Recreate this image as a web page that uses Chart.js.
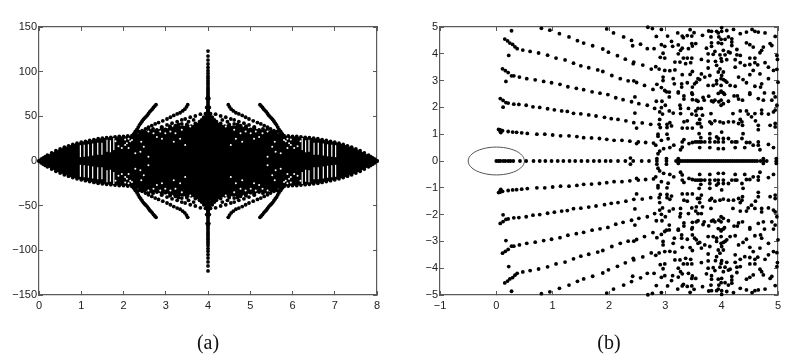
<!DOCTYPE html>
<html>
<head>
<meta charset="utf-8">
<script src="https://cdn.jsdelivr.net/npm/chart.js@4"></script>
<style>
  html, body { margin: 0; padding: 0; background: #fff; overflow: hidden; }
  #wrap_a, #wrap_b { position: absolute; top: 0; width: 401px; height: 364px; }
  #wrap_a { left: 0; }
  #wrap_b { left: 401px; }
</style>
</head>
<body>
<div id="wrap_a"><canvas id="chart_a"></canvas></div>
<div id="wrap_b"><canvas id="chart_b"></canvas></div>
<script>
// tick labels
const aXTicks = [0, 1, 2, 3, 4, 5, 6, 7, 8];
const aYTicks = [-150, -100, -50, 0, 50, 100, 150];
const bXTicks = [-1, 0, 1, 2, 3, 4, 5];
const bYTicks = [-5, -4, -3, -2, -1, 0, 1, 2, 3, 4, 5];

// panel (a): outline of the solid mass
const aEdgeTop = [[0,0],[.05,2],[.1,3.5],[.15,5],[.2,6.5],[.3,9],[.4,11.5],[.5,13.5],[.6,15.5],[.7,17],[.8,18.5],[.9,20],[1,21],[1.1,22],[1.2,23],[1.3,24],[1.4,25],[1.5,25.5],[1.6,26],[1.7,26.5],[1.8,27],[1.9,27.5],[2,27.5],[2.1,28],[2.2,28.5],[2.3,30],[2.4,32],[2.5,33],[2.6,35],[2.7,36],[2.8,34],[2.9,38],[3,35],[3.1,39],[3.2,37],[3.3,41],[3.4,38],[3.5,41],[3.6,39],[3.7,42],[3.8,44],[3.85,46],[3.9,49],[3.94,53],[3.97,60],[3.98,70],[4,72],[4.02,70],[4.03,60],[4.06,53],[4.1,49],[4.15,46],[4.2,44],[4.3,42],[4.4,39],[4.5,41],[4.6,38],[4.7,41],[4.8,37],[4.9,39],[5,35],[5.1,38],[5.2,34],[5.3,36],[5.4,35],[5.5,33],[5.6,32],[5.7,30],[5.8,28.5],[5.9,28],[6,27.5],[6.1,27.5],[6.2,27],[6.3,26.5],[6.4,26],[6.5,25.5],[6.6,25],[6.7,24],[6.8,23],[6.9,22],[7,21],[7.1,20],[7.2,18.5],[7.3,17],[7.4,15.5],[7.5,13.5],[7.6,11.5],[7.7,9],[7.8,6.5],[7.85,5],[7.9,3.5],[7.95,2],[8,0]];
const aEdgeBottom = [[0,0],[.05,-2],[.1,-3.5],[.15,-5],[.2,-6.5],[.3,-9],[.4,-11.5],[.5,-13.5],[.6,-15.5],[.7,-17],[.8,-18.5],[.9,-20],[1,-21],[1.1,-22],[1.2,-23],[1.3,-24],[1.4,-25],[1.5,-25.5],[1.6,-26],[1.7,-26.5],[1.8,-27],[1.9,-27.5],[2,-27.5],[2.1,-28],[2.2,-28.5],[2.3,-30],[2.4,-32],[2.5,-33],[2.6,-35],[2.7,-36],[2.8,-34],[2.9,-38],[3,-35],[3.1,-39],[3.2,-37],[3.3,-41],[3.4,-38],[3.5,-41],[3.6,-39],[3.7,-42],[3.8,-44],[3.85,-46],[3.9,-49],[3.94,-53],[3.97,-60],[3.98,-70],[4,-72],[4.02,-70],[4.03,-60],[4.06,-53],[4.1,-49],[4.15,-46],[4.2,-44],[4.3,-42],[4.4,-39],[4.5,-41],[4.6,-38],[4.7,-41],[4.8,-37],[4.9,-39],[5,-35],[5.1,-38],[5.2,-34],[5.3,-36],[5.4,-35],[5.5,-33],[5.6,-32],[5.7,-30],[5.8,-28.5],[5.9,-28],[6,-27.5],[6.1,-27.5],[6.2,-27],[6.3,-26.5],[6.4,-26],[6.5,-25.5],[6.6,-25],[6.7,-24],[6.8,-23],[6.9,-22],[7,-21],[7.1,-20],[7.2,-18.5],[7.3,-17],[7.4,-15.5],[7.5,-13.5],[7.6,-11.5],[7.7,-9],[7.8,-6.5],[7.85,-5],[7.9,-3.5],[7.95,-2],[8,0]];

// panel (a): spike at x = 4
const aSpike = [[4,123],[4,117.5],[4,113],[4,108.6],[4,104.8],[4,101],[4,98],[4,95],[4,92.6],[4,90],[4,87.7],[4,85.5],[4,83],[4,81],[4,79],[4,76.7],[4,74.5],[4,72],[4,70],[4,68],[4,65.5],[4,63],[4,61],[4,59],[4,56.7],[4,54.5],
  [4,-123],[4,-117.5],[4,-113],[4,-108.6],[4,-104.8],[4,-101],[4,-98],[4,-95],[4,-92.6],[4,-90],[4,-87.7],[4,-85.5],[4,-83],[4,-81],[4,-79],[4,-76.7],[4,-74.5],[4,-72],[4,-70],[4,-68],[4,-65.5],[4,-63],[4,-61],[4,-59],[4,-56.7],[4,-54.5]];

// panel (a): branches leaving the mass
const aBranchUpLeft = [[2.24,30],[2.26,31],[2.28,33],[2.32,35.5],[2.35,38],[2.38,40.5],[2.41,42.5],[2.44,44.5],[2.47,46.5],[2.5,48],[2.53,49.5],[2.56,51],[2.59,53],[2.62,55],[2.65,56.5],[2.68,58],[2.71,60],[2.74,61.5],[2.77,63],
  [3.52,63],[3.49,60.5],[3.45,58],[3.4,56],[3.34,54],[3.27,52.7],[3.19,51],[3.11,49],[3.03,47],[2.93,45],[2.83,43],[2.75,41.5],[2.67,39.6],[2.59,37.8],[2.52,35.9],[2.44,34],[2.36,33],
  [3.82,52.4],[3.7,50.4],[3.58,49],[3.46,47],[3.38,46],[3.27,44],[3.15,42.3],[3.03,40.4],[2.91,37.8],[2.79,34.8],
  [3.66,46],[3.54,44],[3.38,41.5],[3.23,39.6],[3.11,37.8],[2.99,35.5]];
const aBranchUpRight = [[5.76,30],[5.74,31],[5.72,33],[5.68,35.5],[5.65,38],[5.62,40.5],[5.59,42.5],[5.56,44.5],[5.53,46.5],[5.5,48],[5.47,49.5],[5.44,51],[5.41,53],[5.38,55],[5.35,56.5],[5.32,58],[5.29,60],[5.26,61.5],[5.23,63],
  [4.48,63],[4.51,60.5],[4.55,58],[4.6,56],[4.66,54],[4.73,52.7],[4.81,51],[4.89,49],[4.97,47],[5.07,45],[5.17,43],[5.25,41.5],[5.33,39.6],[5.41,37.8],[5.48,35.9],[5.56,34],[5.64,33],
  [4.18,52.4],[4.3,50.4],[4.42,49],[4.54,47],[4.62,46],[4.73,44],[4.85,42.3],[4.97,40.4],[5.09,37.8],[5.21,34.8],
  [4.34,46],[4.46,44],[4.62,41.5],[4.77,39.6],[4.89,37.8],[5.01,35.5]];
const aBranchDownLeft = [[2.24,-30],[2.26,-31],[2.28,-33],[2.32,-35.5],[2.35,-38],[2.38,-40.5],[2.41,-42.5],[2.44,-44.5],[2.47,-46.5],[2.5,-48],[2.53,-49.5],[2.56,-51],[2.59,-53],[2.62,-55],[2.65,-56.5],[2.68,-58],[2.71,-60],[2.74,-61.5],[2.77,-63],
  [3.52,-63],[3.49,-60.5],[3.45,-58],[3.4,-56],[3.34,-54],[3.27,-52.7],[3.19,-51],[3.11,-49],[3.03,-47],[2.93,-45],[2.83,-43],[2.75,-41.5],[2.67,-39.6],[2.59,-37.8],[2.52,-35.9],[2.44,-34],[2.36,-33],
  [3.82,-52.4],[3.7,-50.4],[3.58,-49],[3.46,-47],[3.38,-46],[3.27,-44],[3.15,-42.3],[3.03,-40.4],[2.91,-37.8],[2.79,-34.8],
  [3.66,-46],[3.54,-44],[3.38,-41.5],[3.23,-39.6],[3.11,-37.8],[2.99,-35.5]];
const aBranchDownRight = [[5.76,-30],[5.74,-31],[5.72,-33],[5.68,-35.5],[5.65,-38],[5.62,-40.5],[5.59,-42.5],[5.56,-44.5],[5.53,-46.5],[5.5,-48],[5.47,-49.5],[5.44,-51],[5.41,-53],[5.38,-55],[5.35,-56.5],[5.32,-58],[5.29,-60],[5.26,-61.5],[5.23,-63],
  [4.48,-63],[4.51,-60.5],[4.55,-58],[4.6,-56],[4.66,-54],[4.73,-52.7],[4.81,-51],[4.89,-49],[4.97,-47],[5.07,-45],[5.17,-43],[5.25,-41.5],[5.33,-39.6],[5.41,-37.8],[5.48,-35.9],[5.56,-34],[5.64,-33],
  [4.18,-52.4],[4.3,-50.4],[4.42,-49],[4.54,-47],[4.62,-46],[4.73,-44],[4.85,-42.3],[4.97,-40.4],[5.09,-37.8],[5.21,-34.8],
  [4.34,-46],[4.46,-44],[4.62,-41.5],[4.77,-39.6],[4.89,-37.8],[5.01,-35.5]];

// panel (a): white stripes and specks showing through the mass
const aStripes = [[.98,11],[1.07,11.5],[1.17,12],[1.27,13],[1.39,13.8],[1.49,13.8],[1.61,17],[1.69,16.5],[1.77,19],
  [.98,-11],[1.07,-11.5],[1.17,-12],[1.27,-13],[1.39,-13.8],[1.49,-13.8],[1.61,-17],[1.69,-16.5],[1.77,-19],
  [7.02,11],[6.93,11.5],[6.83,12],[6.73,13],[6.61,13.8],[6.51,13.8],[6.39,17],[6.31,16.5],[6.23,19],
  [7.02,-11],[6.93,-11.5],[6.83,-12],[6.73,-13],[6.61,-13.8],[6.51,-13.8],[6.39,-17],[6.31,-16.5],[6.23,-19]];
const aSpecks = [[1.81,22],[1.88,16.5],[1.96,14.6],[2.04,18],[2.12,14.6],[2.16,22],[2.04,24],[2.12,25],[2.08,20],[2.2,23.5],[2.42,21.6],[2.48,16],[2.4,10.4],[2.28,8.6],[2.79,27],[2.91,25],[3.19,21.6],[3.23,31],[3.11,33],[2.99,31],[2.87,33],[2.71,31],[2.59,33],[3.38,35],[3.58,38.5],[3.46,18],[3.34,25],[2.59,4.8],
  [1.81,-22],[1.88,-16.5],[1.96,-14.6],[2.04,-18],[2.12,-14.6],[2.16,-22],[2.04,-24],[2.12,-25],[2.08,-20],[2.2,-23.5],[2.42,-21.6],[2.48,-16],[2.4,-10.4],[2.28,-8.6],[2.79,-27],[2.91,-25],[3.19,-21.6],[3.23,-31],[3.11,-33],[2.99,-31],[2.87,-33],[2.71,-31],[2.59,-33],[3.38,-35],[3.58,-38.5],[3.46,-18],[3.34,-25],[2.59,-4.8],
  [6.19,22],[6.12,16.5],[6.04,14.6],[5.96,18],[5.88,14.6],[5.84,22],[5.96,24],[5.88,25],[5.92,20],[5.8,23.5],[5.58,21.6],[5.52,16],[5.6,10.4],[5.72,8.6],[5.21,27],[5.09,25],[4.81,21.6],[4.77,31],[4.89,33],[5.01,31],[5.13,33],[5.29,31],[5.41,33],[4.62,35],[4.42,38.5],[4.54,18],[4.66,25],[5.41,4.8],
  [6.19,-22],[6.12,-16.5],[6.04,-14.6],[5.96,-18],[5.88,-14.6],[5.84,-22],[5.96,-24],[5.88,-25],[5.92,-20],[5.8,-23.5],[5.58,-21.6],[5.52,-16],[5.6,-10.4],[5.72,-8.6],[5.21,-27],[5.09,-25],[4.81,-21.6],[4.77,-31],[4.89,-33],[5.01,-31],[5.13,-33],[5.29,-31],[5.41,-33],[4.62,-35],[4.42,-38.5],[4.54,-18],[4.66,-25],[5.41,-4.8]];

// panel (b): the ellipse round the origin
const bEllipse = [[.5,0],[.483,.135],[.433,.26],[.354,.368],[.25,.45],[.13,.502],[0,.52],[-.13,.502],[-.25,.45],[-.354,.368],[-.433,.26],[-.483,.135],[-.5,0],[-.483,-.135],[-.433,-.26],[-.354,-.368],[-.25,-.45],[-.13,-.502],[0,-.52],[.13,-.502],[.25,-.45],[.354,-.368],[.433,-.26],[.483,-.135],[.5,0]];

// panel (b): points on the real axis
const bAxisRow = [[0,0],[.04,0],[.07,0],[.12,0],[.16,0],[.21,0],[.25,0],[.3,0],[.42,0],[.53,0],[.66,0],[.77,0],[.87,0],[.98,0],[1.09,0],[1.19,0],[1.3,0],[1.4,0],[1.51,0],[1.62,0],[1.73,0],[1.83,0],[1.94,0],[2.03,0],[2.16,0],[2.29,0],[2.38,.11],[2.43,0],[2.38,-.12],[2.58,0],[2.71,0],[2.85,.09],[2.85,0],[2.85,-.12],[3.02,.09],[3.02,0],[3.02,-.12],[3.23,.09],[3.23,0],[3.23,-.09],[3.19,0],
  [3.27,0],[3.31,0],[3.35,0],[3.39,0],[3.43,0],[3.47,0],[3.51,0],[3.55,0],[3.59,0],[3.63,0],[3.67,0],[3.71,0],[3.75,0],[3.79,0],[3.83,0],[3.87,0],[3.91,0],[3.95,0],[3.99,0],[4.03,0],[4.07,0],[4.11,0],[4.15,0],[4.19,0],[4.23,0],[4.27,0],[4.31,0],[4.35,0],[4.39,0],[4.43,0],[4.47,0],[4.51,0],[4.55,0],[4.59,0],[4.63,0],
  [4.74,.09],[4.74,0],[4.74,-.09],[4.69,0],[4.8,0],[4.97,.09],[4.97,0],[4.97,-.09]];

// panel (b): the five rays reaching in from the right, upper half
const bRaysTop = [[.04,1.18],[.07,1.1],[.08,1.06],[.11,1.13],[.07,1.16],[.21,1.1],[.29,1.08],[.36,1.07],[.45,1.05],[.55,1.03],[.72,1],[.86,1],[1,.97],[1.14,.94],[1.29,.94],[1.43,.91],[1.55,.87],[1.69,.86],[1.83,.84],[1.96,.81],
  [.07,2.33],[.12,2.26],[.17,2.18],[.21,2.16],[.31,2.12],[.4,2.11],[.53,2.08],[.65,2.02],[.77,2],[.91,1.95],[1.03,1.91],[1.16,1.87],[1.26,1.85],[1.37,1.78],[1.5,1.76],[1.64,1.72],[1.77,1.68],[1.92,1.63],[.12,2.01],
  [.11,3.44],[.16,3.37],[.21,3.3],[.27,3.18],[.31,3.18],[.41,3.13],[.54,3.07],[.69,3.03],[.84,2.97],[.98,2.92],[1.13,2.86],[1.27,2.77],[1.42,2.71],[1.55,2.66],[1.7,2.58],[1.84,2.53],[1.98,2.48],[.17,2.97],
  [.15,4.55],[.2,4.48],[.24,4.4],[.29,4.35],[.33,4.26],[.37,4.19],[.47,4.14],[.6,4.09],[.75,4.03],[.91,3.95],[1.06,3.84],[1.22,3.77],[1.37,3.65],[1.5,3.55],[1.64,3.48],[1.8,3.4],[1.89,3.34],[.22,3.94],
  [.27,4.86],[.8,4.95],[.95,4.88],[1.12,4.75],[1.29,4.63],[1.44,4.49],[1.55,4.4],[1.71,4.3],[1.89,4.18],[1.99,4.06],[1.96,4.93]];
const bRaysBottom = [[.04,-1.18],[.07,-1.1],[.08,-1.06],[.11,-1.13],[.07,-1.16],[.21,-1.1],[.29,-1.08],[.36,-1.07],[.45,-1.05],[.55,-1.03],[.72,-1],[.86,-1],[1,-.97],[1.14,-.94],[1.29,-.94],[1.43,-.91],[1.55,-.87],[1.69,-.86],[1.83,-.84],[1.96,-.81],
  [.07,-2.33],[.12,-2.26],[.17,-2.18],[.21,-2.16],[.31,-2.12],[.4,-2.11],[.53,-2.08],[.65,-2.02],[.77,-2],[.91,-1.95],[1.03,-1.91],[1.16,-1.87],[1.26,-1.85],[1.37,-1.78],[1.5,-1.76],[1.64,-1.72],[1.77,-1.68],[1.92,-1.63],[.12,-2.01],
  [.11,-3.44],[.16,-3.37],[.21,-3.3],[.27,-3.18],[.31,-3.18],[.41,-3.13],[.54,-3.07],[.69,-3.03],[.84,-2.97],[.98,-2.92],[1.13,-2.86],[1.27,-2.77],[1.42,-2.71],[1.55,-2.66],[1.7,-2.58],[1.84,-2.53],[1.98,-2.48],[.17,-2.97],
  [.15,-4.55],[.2,-4.48],[.24,-4.4],[.29,-4.35],[.33,-4.26],[.37,-4.19],[.47,-4.14],[.6,-4.09],[.75,-4.03],[.91,-3.95],[1.06,-3.84],[1.22,-3.77],[1.37,-3.65],[1.5,-3.55],[1.64,-3.48],[1.8,-3.4],[1.89,-3.34],[.22,-3.94],
  [.27,-4.86],[.8,-4.95],[.95,-4.88],[1.12,-4.75],[1.29,-4.63],[1.44,-4.49],[1.55,-4.4],[1.71,-4.3],[1.89,-4.18],[1.99,-4.06],[1.96,-4.93]];

// panel (b): the scattered field for x > 2
const bFieldTop = [[2.08,4.78],[2.26,4.63],[2.4,4.5],[2.42,4.3],[2.56,4.36],[2.68,4.19],[2.8,4.19],[2.93,4.34],[2.99,4.28],[3.11,4.46],[3.13,4.28],[3.04,4.66],[2.84,4.65],[2.69,4.99],[2.77,4.94],[2.93,4.91],[3.22,4.78],[3.3,4.66],[3.32,4.6],[3.39,4.68],[3.47,4.66],[3.44,4.9],[3.51,4.79],[3.23,4.33],[3.3,4.21],[3.27,4.13],[3.41,4.19],[3.48,4.29],[3.54,4.38],[3.47,4.38],[2.96,4.02],[2.91,3.87],[2.99,3.84],[3.23,4],[3.32,3.84],[3.39,3.84],[3.47,3.84],[3.17,3.69],[3.26,3.69],[3.36,3.63],[3.45,3.67],[2.15,3.93],[2.29,3.8],[2.44,3.69],[2.43,3.63],[2.6,3.58],[2.75,3.43],[2.83,3.52],[2.89,3.43],[2.99,3.38],[3.08,3.37],[3.17,3.4],[3.3,3.22],[3.44,3.23],[3.48,3.34],[2.05,3.19],[2.2,3.07],[2.34,2.99],[2.44,2.99],[2.49,2.93],[2.63,2.82],[2.85,2.86],[2.78,2.67],[2.93,2.74],[2.99,2.63],[3.07,2.57],[2.96,3.13],[2.96,3],[3.14,3.07],[3.16,2.88],[3.29,2.88],[3.29,2.76],[3.39,2.92],[3.48,2.76],[3.52,2.88],[3.58,3.07],[3.23,2.54],[3.47,2.54],
  [3.66,4.69],[3.77,4.85],[3.82,4.84],[3.91,4.84],[3.94,4.78],[4,4.98],[4,4.84],[4.09,4.87],[4.21,4.91],[4.33,4.75],[4.44,4.81],[4.54,4.91],[4.59,4.84],[4.65,4.81],[4.77,4.78],[4.95,4.65],[3.81,4.63],[3.95,4.63],[3.99,4.54],[4.06,4.54],[4.12,4.63],[4.18,4.56],[3.82,4.41],[3.94,4.41],[4,4.38],[4.18,4.44],[4.18,4.31],[4.44,4.41],[4.5,4.34],[4.56,4.25],[4.74,4.25],[4.86,4.38],[4.89,4.31],[4.71,4.13],[4.68,4.04],[3.73,4.21],[3.82,4.28],[3.88,4.09],[4.03,4.13],[4.12,4.07],[4.27,4.16],[3.76,4],[3.85,3.98],[3.97,3.96],[3.99,3.82],[4.06,3.96],[4.15,4.04],[4.27,3.96],[4.33,3.94],[4.5,3.84],[4.59,3.84],[4.59,3.67],[4.5,3.6],[4.64,3.59],[4.77,3.67],[4.98,3.94],[4.99,3.79],[3.64,3.79],[3.76,3.73],[3.89,3.72],[3.91,3.57],[4,3.72],[4.09,3.78],[4.24,3.78],[4.33,3.67],[4.41,3.57],[3.76,3.47],[3.97,3.44],[3.94,3.32],[4.03,3.32],[4,3.19],[3.99,3.07],[4.03,3.04],[3.91,3],[4.06,3],[3.79,3.19],[3.7,3.13],[3.61,3.04],[3.55,2.94],[4.24,3.5],[4.3,3.13],[4.38,3.04],[4.44,2.92],[4.5,3.22],[4.56,3.38],[4.68,3.25],[4.83,3.5],[4.92,3.38],[4.98,3.42],[3.64,3.25],[4.59,2.79],[4.71,2.88],[4.69,2.76],[4.83,3.07],[5,2.94],[3.76,2.82],[3.85,2.82],[3.91,2.88],[3.99,2.82],[4.09,2.94],[4.15,2.82],[4.24,2.79],[3.99,2.57],[4.5,2.54],[4.03,2.54],
  [2.12,2.36],[2.25,2.29],[2.4,2.21],[2.46,2.39],[2.53,2.14],[2.68,2.08],[2.84,2.23],[2.94,2.23],[3.02,2.58],[3.07,2.39],[3,2.08],[2.93,1.99],[2.81,1.96],[2.9,1.83],[2.95,1.75],[3.07,1.87],[3.14,1.79],[2.46,1.79],[3.23,2.58],[3.33,2.43],[3.33,2.31],[3.48,2.49],[3.48,2.29],[3.58,2.23],[3.26,2.08],[3.27,1.96],[3.27,1.77],[3.41,1.96],[3.47,1.75],[3.54,1.87],[2.04,1.58],[2.16,1.55],[2.3,1.5],[2.44,1.43],[2.49,1.23],[2.59,1.42],[2.74,1.37],[2.9,1.55],[2.89,1.37],[2.91,1.25],[3.08,1.43],[3.03,1.37],[3.03,1.25],[3.11,1.31],[3.33,1.46],[3.39,1.5],[3.3,1.23],[3.39,1.23],[3.48,1.23],[3.57,1.4],[2.87,1],[2.87,.92],[3.03,1],[3.05,.83],[2.09,.77],[2.23,.77],[2.37,.74],[2.52,.71],[2.49,.65],[2.65,.69],[2.79,.67],[2.83,.59],[2.93,.77],[2.97,.46],[2.9,.37],[2.87,.27],[3.08,.5],[3.15,.59],[3.3,.71],[3.33,.8],[3.3,.52],[3.27,.42],[3.42,.65],[3.48,.69],[3.57,.71],[3.61,.71],
  [3.55,2.27],[3.67,2.37],[3.69,2.27],[3.77,2.42],[3.82,2.24],[3.85,2.21],[3.88,2.27],[3.94,2.52],[3.99,2.61],[4.05,2.49],[3.99,2.27],[3.99,2.08],[3.95,2.21],[4.03,2.14],[4.12,2.23],[4.22,2.43],[4.28,2.43],[4.3,2.31],[4.37,2.27],[4.5,2.49],[4.65,2.33],[4.76,2.54],[4.74,2.27],[4.92,2.54],[4.95,2.39],[4.98,2.08],[4.89,2.27],[3.58,1.96],[3.64,1.96],[3.55,1.71],[3.66,1.71],[3.81,1.77],[4.2,1.77],[4.33,1.87],[4.44,1.87],[4.47,1.75],[4.59,1.77],[4.53,1.65],[4.71,1.9],[4.71,1.77],[4.95,1.9],[4.92,1.83],[4.83,1.75],[3.61,1.55],[3.61,1.4],[3.64,1.27],[3.79,1.46],[3.82,1.4],[3.88,1.5],[3.97,1.46],[4.03,1.42],[4.12,1.46],[4.21,1.46],[4.33,1.55],[4.36,1.46],[4.37,1.33],[4.3,1.4],[4.6,1.5],[4.65,1.33],[4.65,1.17],[4.95,1.4],[4.86,1.33],[4.95,1.27],[3.6,1.02],[3.63,.87],[3.79,1.02],[3.79,.84],[3.91,.9],[4,1.08],[3.94,.84],[4.03,.84],[4.12,.84],[4.24,.71],[4.38,1.02],[4.36,.84],[3.53,.71],[3.64,.71],[3.7,.71],[3.79,.71],[3.88,.71],[3.94,.71],[4.03,.71],[4.18,.71],[4.27,.71],[4.44,.69],[4.5,.69],[4.56,.59],[4.65,.71],[4.65,.59],[4.68,.42],[3.61,.5],[3.79,.5],[3.94,.46],[4.03,.46],[4.24,.5],[4.41,.5],[4.83,.62],[4.92,.5]];
const bFieldBottom = [[2.08,-4.78],[2.26,-4.63],[2.4,-4.5],[2.42,-4.3],[2.56,-4.36],[2.68,-4.19],[2.8,-4.19],[2.93,-4.34],[2.99,-4.28],[3.11,-4.46],[3.13,-4.28],[3.04,-4.66],[2.84,-4.65],[2.69,-4.99],[2.77,-4.94],[2.93,-4.91],[3.22,-4.78],[3.3,-4.66],[3.32,-4.6],[3.39,-4.68],[3.47,-4.66],[3.44,-4.9],[3.51,-4.79],[3.23,-4.33],[3.3,-4.21],[3.27,-4.13],[3.41,-4.19],[3.48,-4.29],[3.54,-4.38],[3.47,-4.38],[2.96,-4.02],[2.91,-3.87],[2.99,-3.84],[3.23,-4],[3.32,-3.84],[3.39,-3.84],[3.47,-3.84],[3.17,-3.69],[3.26,-3.69],[3.36,-3.63],[3.45,-3.67],[2.15,-3.93],[2.29,-3.8],[2.44,-3.69],[2.43,-3.63],[2.6,-3.58],[2.75,-3.43],[2.83,-3.52],[2.89,-3.43],[2.99,-3.38],[3.08,-3.37],[3.17,-3.4],[3.3,-3.22],[3.44,-3.23],[3.48,-3.34],[2.05,-3.19],[2.2,-3.07],[2.34,-2.99],[2.44,-2.99],[2.49,-2.93],[2.63,-2.82],[2.85,-2.86],[2.78,-2.67],[2.93,-2.74],[2.99,-2.63],[3.07,-2.57],[2.96,-3.13],[2.96,-3],[3.14,-3.07],[3.16,-2.88],[3.29,-2.88],[3.29,-2.76],[3.39,-2.92],[3.48,-2.76],[3.52,-2.88],[3.58,-3.07],[3.23,-2.54],[3.47,-2.54],
  [3.66,-4.69],[3.77,-4.85],[3.82,-4.84],[3.91,-4.84],[3.94,-4.78],[4,-4.98],[4,-4.84],[4.09,-4.87],[4.21,-4.91],[4.33,-4.75],[4.44,-4.81],[4.54,-4.91],[4.59,-4.84],[4.65,-4.81],[4.77,-4.78],[4.95,-4.65],[3.81,-4.63],[3.95,-4.63],[3.99,-4.54],[4.06,-4.54],[4.12,-4.63],[4.18,-4.56],[3.82,-4.41],[3.94,-4.41],[4,-4.38],[4.18,-4.44],[4.18,-4.31],[4.44,-4.41],[4.5,-4.34],[4.56,-4.25],[4.74,-4.25],[4.86,-4.38],[4.89,-4.31],[4.71,-4.13],[4.68,-4.04],[3.73,-4.21],[3.82,-4.28],[3.88,-4.09],[4.03,-4.13],[4.12,-4.07],[4.27,-4.16],[3.76,-4],[3.85,-3.98],[3.97,-3.96],[3.99,-3.82],[4.06,-3.96],[4.15,-4.04],[4.27,-3.96],[4.33,-3.94],[4.5,-3.84],[4.59,-3.84],[4.59,-3.67],[4.5,-3.6],[4.64,-3.59],[4.77,-3.67],[4.98,-3.94],[4.99,-3.79],[3.64,-3.79],[3.76,-3.73],[3.89,-3.72],[3.91,-3.57],[4,-3.72],[4.09,-3.78],[4.24,-3.78],[4.33,-3.67],[4.41,-3.57],[3.76,-3.47],[3.97,-3.44],[3.94,-3.32],[4.03,-3.32],[4,-3.19],[3.99,-3.07],[4.03,-3.04],[3.91,-3],[4.06,-3],[3.79,-3.19],[3.7,-3.13],[3.61,-3.04],[3.55,-2.94],[4.24,-3.5],[4.3,-3.13],[4.38,-3.04],[4.44,-2.92],[4.5,-3.22],[4.56,-3.38],[4.68,-3.25],[4.83,-3.5],[4.92,-3.38],[4.98,-3.42],[3.64,-3.25],[4.59,-2.79],[4.71,-2.88],[4.69,-2.76],[4.83,-3.07],[5,-2.94],[3.76,-2.82],[3.85,-2.82],[3.91,-2.88],[3.99,-2.82],[4.09,-2.94],[4.15,-2.82],[4.24,-2.79],[3.99,-2.57],[4.5,-2.54],[4.03,-2.54],
  [2.12,-2.36],[2.25,-2.29],[2.4,-2.21],[2.46,-2.39],[2.53,-2.14],[2.68,-2.08],[2.84,-2.23],[2.94,-2.23],[3.02,-2.58],[3.07,-2.39],[3,-2.08],[2.93,-1.99],[2.81,-1.96],[2.9,-1.83],[2.95,-1.75],[3.07,-1.87],[3.14,-1.79],[2.46,-1.79],[3.23,-2.58],[3.33,-2.43],[3.33,-2.31],[3.48,-2.49],[3.48,-2.29],[3.58,-2.23],[3.26,-2.08],[3.27,-1.96],[3.27,-1.77],[3.41,-1.96],[3.47,-1.75],[3.54,-1.87],[2.04,-1.58],[2.16,-1.55],[2.3,-1.5],[2.44,-1.43],[2.49,-1.23],[2.59,-1.42],[2.74,-1.37],[2.9,-1.55],[2.89,-1.37],[2.91,-1.25],[3.08,-1.43],[3.03,-1.37],[3.03,-1.25],[3.11,-1.31],[3.33,-1.46],[3.39,-1.5],[3.3,-1.23],[3.39,-1.23],[3.48,-1.23],[3.57,-1.4],[2.87,-1],[2.87,-.92],[3.03,-1],[3.05,-.83],[2.09,-.77],[2.23,-.77],[2.37,-.74],[2.52,-.71],[2.49,-.65],[2.65,-.69],[2.79,-.67],[2.83,-.59],[2.93,-.77],[2.97,-.46],[2.9,-.37],[2.87,-.27],[3.08,-.5],[3.15,-.59],[3.3,-.71],[3.33,-.8],[3.3,-.52],[3.27,-.42],[3.42,-.65],[3.48,-.69],[3.57,-.71],[3.61,-.71],
  [3.55,-2.27],[3.67,-2.37],[3.69,-2.27],[3.77,-2.42],[3.82,-2.24],[3.85,-2.21],[3.88,-2.27],[3.94,-2.52],[3.99,-2.61],[4.05,-2.49],[3.99,-2.27],[3.99,-2.08],[3.95,-2.21],[4.03,-2.14],[4.12,-2.23],[4.22,-2.43],[4.28,-2.43],[4.3,-2.31],[4.37,-2.27],[4.5,-2.49],[4.65,-2.33],[4.76,-2.54],[4.74,-2.27],[4.92,-2.54],[4.95,-2.39],[4.98,-2.08],[4.89,-2.27],[3.58,-1.96],[3.64,-1.96],[3.55,-1.71],[3.66,-1.71],[3.81,-1.77],[4.2,-1.77],[4.33,-1.87],[4.44,-1.87],[4.47,-1.75],[4.59,-1.77],[4.53,-1.65],[4.71,-1.9],[4.71,-1.77],[4.95,-1.9],[4.92,-1.83],[4.83,-1.75],[3.61,-1.55],[3.61,-1.4],[3.64,-1.27],[3.79,-1.46],[3.82,-1.4],[3.88,-1.5],[3.97,-1.46],[4.03,-1.42],[4.12,-1.46],[4.21,-1.46],[4.33,-1.55],[4.36,-1.46],[4.37,-1.33],[4.3,-1.4],[4.6,-1.5],[4.65,-1.33],[4.65,-1.17],[4.95,-1.4],[4.86,-1.33],[4.95,-1.27],[3.6,-1.02],[3.63,-.87],[3.79,-1.02],[3.79,-.84],[3.91,-.9],[4,-1.08],[3.94,-.84],[4.03,-.84],[4.12,-.84],[4.24,-.71],[4.38,-1.02],[4.36,-.84],[3.53,-.71],[3.64,-.71],[3.7,-.71],[3.79,-.71],[3.88,-.71],[3.94,-.71],[4.03,-.71],[4.18,-.71],[4.27,-.71],[4.44,-.69],[4.5,-.69],[4.56,-.59],[4.65,-.71],[4.65,-.59],[4.68,-.42],[3.61,-.5],[3.79,-.5],[3.94,-.46],[4.03,-.46],[4.24,-.5],[4.41,-.5],[4.83,-.62],[4.92,-.5]];

const AXIS_COLOR = "#5a5a5a";
const TICK_COLOR = "#222";
const TICK_FONT = { family: "'Liberation Sans', sans-serif", size: 11 };
const CAPTION_FONT = { family: "'Liberation Serif', serif", size: 20 };

const minusLabel = (v) => String(v).replace("-", "\u2212");
const setTicks = (list) => (scale) => { scale.ticks = list.map((value) => ({ value })); };

function dots(data, radius, order) {
  return { data, showLine: false, pointRadius: radius, pointHoverRadius: radius, pointBorderWidth: 0, pointBackgroundColor: "#000", clip: false, order };
}

function edgeFill(data) {
  return { data, showLine: true, borderWidth: 0, borderColor: "#000", backgroundColor: "#000", fill: "origin", tension: 0, pointRadius: 1.9, pointBorderWidth: 0, pointBackgroundColor: "#000", clip: false, order: 5 };
}

// plot box with inward ticks on all four sides; the two outer axes only carry ticks and border
function buildScales(xMin, xMax, xTicks, yMin, yMax, yTicks, caption) {
  const grid = { drawOnChartArea: false, drawTicks: true, tickLength: -4, color: AXIS_COLOR, lineWidth: 1 };
  const border = { display: true, color: AXIS_COLOR, width: 1.2 };
  return {
    x: {
      type: "linear", position: "bottom", min: xMin, max: xMax, grid, border,
      afterBuildTicks: setTicks(xTicks),
      ticks: { color: TICK_COLOR, font: TICK_FONT, padding: 8, maxRotation: 0, autoSkip: false, callback: minusLabel },
      title: { display: true, text: caption, color: "#111", font: CAPTION_FONT, padding: { top: 0, bottom: 8 } },
      afterFit: (s) => { s.height = 69; },
    },
    y: {
      type: "linear", position: "left", min: yMin, max: yMax, grid, border,
      afterBuildTicks: setTicks(yTicks),
      ticks: { color: TICK_COLOR, font: TICK_FONT, padding: 6, autoSkip: false, callback: minusLabel },
      afterFit: (s) => { s.width = 39; },
    },
    x2: {
      type: "linear", position: "top", min: xMin, max: xMax, grid, border,
      afterBuildTicks: setTicks(xTicks),
      ticks: { display: false },
      afterFit: (s) => { s.height = 0; },
    },
    y2: {
      type: "linear", position: "right", min: yMin, max: yMax, grid, border,
      afterBuildTicks: setTicks(yTicks),
      ticks: { display: false },
      afterFit: (s) => { s.width = 0; },
    },
  };
}

function baseOptions(scales) {
  return {
    responsive: true,
    maintainAspectRatio: false,
    animation: false,
    events: [],
    layout: { padding: { top: 27, right: 24, left: 0, bottom: 0 } },
    plugins: { legend: { display: false }, tooltip: { enabled: false } },
    scales,
  };
}

new Chart(document.getElementById("chart_a"), {
  type: "scatter",
  data: {
    datasets: [
      dots(aSpike, 1.9, 1),
      dots(aBranchUpLeft.concat(aBranchUpRight, aBranchDownLeft, aBranchDownRight), 1.9, 1),
      { data: aStripes, showLine: false, pointStyle: "line", pointRotation: 90, pointRadius: 6, pointBorderWidth: 1.2, pointBorderColor: "#fff", order: 2 },
      { data: aSpecks, showLine: false, pointRadius: 1, pointBorderWidth: 0, pointBackgroundColor: "#fff", order: 2 },
      edgeFill(aEdgeTop),
      edgeFill(aEdgeBottom),
    ],
  },
  options: baseOptions(buildScales(0, 8, aXTicks, -150, 150, aYTicks, "(a)")),
});

new Chart(document.getElementById("chart_b"), {
  type: "scatter",
  data: {
    datasets: [
      dots(bAxisRow, 1.9, 1),
      dots(bRaysTop.concat(bRaysBottom), 1.9, 1),
      dots(bFieldTop.concat(bFieldBottom), 1.9, 1),
      { data: bEllipse, showLine: true, borderColor: "#555", borderWidth: 1, tension: 0.3, fill: false, pointRadius: 0, order: 2 },
    ],
  },
  options: baseOptions(buildScales(-1, 5, bXTicks, -5, 5, bYTicks, "(b)")),
});
</script>
</body>
</html>
